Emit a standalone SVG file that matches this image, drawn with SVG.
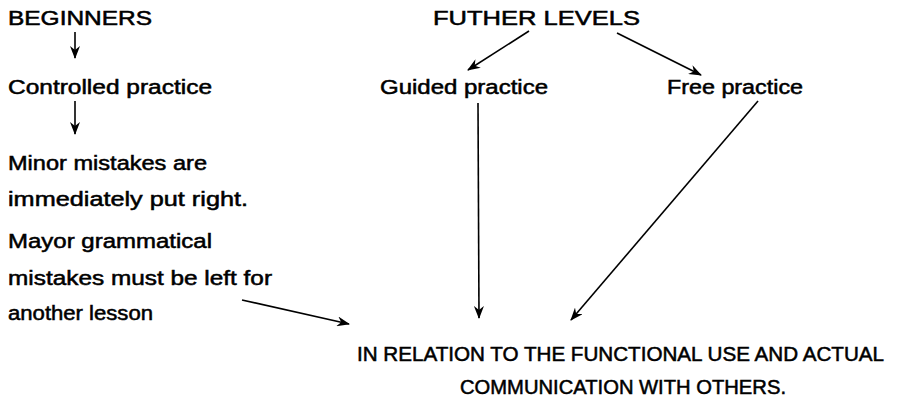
<svg xmlns="http://www.w3.org/2000/svg" width="901" height="407" viewBox="0 0 901 407">
<style>
  text { font-family: "Liberation Sans", Arial, sans-serif; font-size: 19.5px; fill: #000; stroke: #000; stroke-width: 0.5px; }
  .conn { stroke: #000; stroke-width: 1.6; fill: none; marker-end: url(#ah); }
</style>
<defs>
  <marker id="ah" viewBox="0 0 13 10" refX="12" refY="5" markerWidth="13" markerHeight="10" markerUnits="userSpaceOnUse" orient="auto">
    <path d="M0,0 L13,5 L0,10 L4,5 z" fill="#000"/>
  </marker>
</defs>
<rect width="901" height="407" fill="#fff"/>
<g id="beginners"><text x="8" y="25" textLength="144" lengthAdjust="spacingAndGlyphs">BEGINNERS</text></g>
<g id="controlled"><text x="8" y="94" textLength="204" lengthAdjust="spacingAndGlyphs">Controlled practice</text></g>
<g id="minor">
  <text x="8" y="170" textLength="199" lengthAdjust="spacingAndGlyphs">Minor mistakes are</text>
  <text x="8" y="206" textLength="240" lengthAdjust="spacingAndGlyphs">immediately put right.</text>
</g>
<g id="mayor">
  <text x="8" y="248" textLength="204" lengthAdjust="spacingAndGlyphs">Mayor grammatical</text>
  <text x="8" y="285" textLength="264" lengthAdjust="spacingAndGlyphs">mistakes must be left for</text>
  <text x="8" y="320" textLength="145" lengthAdjust="spacingAndGlyphs">another lesson</text>
</g>
<g id="further"><text x="433" y="25" textLength="207" lengthAdjust="spacingAndGlyphs">FUTHER LEVELS</text></g>
<g id="guided"><text x="380" y="94" textLength="168" lengthAdjust="spacingAndGlyphs">Guided practice</text></g>
<g id="free"><text x="667" y="94" textLength="136" lengthAdjust="spacingAndGlyphs">Free practice</text></g>
<g id="relation">
  <text x="357" y="361" textLength="527" lengthAdjust="spacingAndGlyphs">IN RELATION TO THE FUNCTIONAL USE AND ACTUAL</text>
  <text x="460" y="394" textLength="326" lengthAdjust="spacingAndGlyphs">COMMUNICATION WITH OTHERS.</text>
</g>
<g id="connectors">
  <line class="conn" x1="75" y1="32" x2="75" y2="58"/>
  <line class="conn" x1="75" y1="101" x2="75" y2="134"/>
  <line class="conn" x1="529" y1="31" x2="468" y2="70"/>
  <line class="conn" x1="617" y1="33" x2="701" y2="75"/>
  <line class="conn" x1="478" y1="103" x2="479" y2="318"/>
  <line class="conn" x1="758" y1="101" x2="571" y2="320"/>
  <line class="conn" x1="242" y1="300" x2="349" y2="324"/>
</g>
</svg>
